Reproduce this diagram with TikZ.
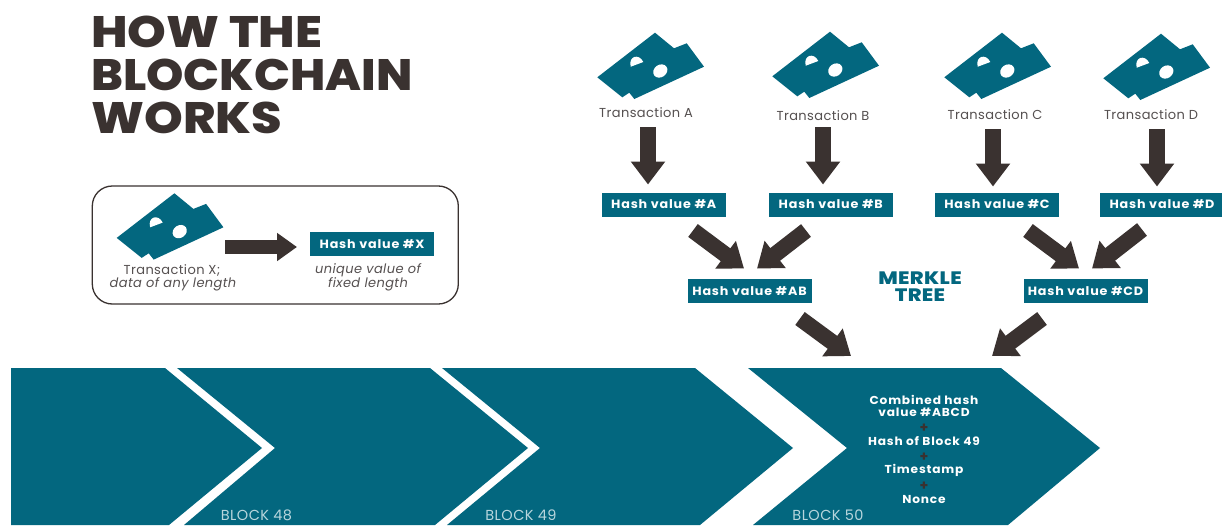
\documentclass[tikz,border=0pt]{standalone}
\usepackage{fontspec}
\setmainfont{Poppins}
\newfontfamily\labf[LetterSpace=3]{Poppins}
\newfontfamily\hashf[LetterSpace=7,FakeStretch=1.06]{Poppins}
\newfontfamily\heavyf[FakeStretch=1.08]{Poppins ExtraBold}
\newfontfamily\heavyw[FakeStretch=1.12]{Poppins ExtraBold}
\newfontfamily\merkf[LetterSpace=2,FakeStretch=1.16]{Poppins ExtraBold}
\usetikzlibrary{arrows.meta,calc}
\definecolor{teal1}{HTML}{03677F}
\definecolor{dark1}{HTML}{3A3230}
\definecolor{gray1}{HTML}{555050}
\definecolor{light1}{HTML}{B8D6DD}
\newcommand{\fs}[1]{\fontsize{#1}{#1}\selectfont}
\tikzset{
  x=1pt,y=-1pt,
  hashbox/.style={fill=teal1,text=white,font=\hashf\fs{12}\bfseries,minimum width=124pt,minimum height=24pt,inner sep=0pt},
  fat/.style={draw=dark1,line width=16pt,-{Triangle[width=33pt,length=23pt,fill=dark1]}},
  fatsmall/.style={draw=dark1,line width=14pt,-{Triangle[width=27pt,length=20pt,fill=dark1]}},
  label1/.style={text=gray1,font=\labf\fs{13},inner sep=0pt},
  label2/.style={text=gray1,font=\labf\fs{13}\itshape,inner sep=0pt},
  blocktxt/.style={text=light1,font=\labf\fs{14.5},inner sep=0pt},
  stk/.style={text=white,font=\hashf\fs{11.5}\bfseries,inner sep=0pt},
  plussign/.style={text=dark1,font=\fs{14}\bfseries,inner sep=0pt},
  titletxt/.style={text=dark1,font=\heavyf\fs{44},inner sep=0pt,anchor=west},
  merk/.style={text=teal1,font=\merkf\fs{18},inner sep=0pt},
  chev/.style={fill=teal1,draw=none},
  doc/.pic={
    \fill[teal1] (58,0.7)--(77,16.3)--(89.7,11.3)--(107,34.7)--(37.3,67)--(32.3,60.7)--(25.3,65.3)--(0.3,45.3)--cycle;
    \fill[white] (33.7,34.7) .. controls (31,24) and (42,21) .. (46.3,30) -- cycle;
    \fill[white,rotate around={35:(63.3,39)}] (63.3,39) ellipse [x radius=7.5,y radius=6.2];
  }
}
\begin{document}
\begin{tikzpicture}
\useasboundingbox (0,0) rectangle (1222,525);
\fill[white] (0,0) rectangle (1222,525);
% chevrons
\fill[chev] (11,368)--(165,368)--(262,448)--(169,525)--(11,525)--cycle;
\fill[chev] (177,368)--(430,368)--(528,448)--(435,525)--(184,525)--(275,448)--cycle;
\fill[chev] (442,368)--(695,368)--(793,448)--(700,525)--(447,525)--(540,448)--cycle;
\fill[chev] (748,368)--(1001,368)--(1100,448)--(1008,525)--(753,525)--(847,448)--cycle;
% title
\node[titletxt] (t1) at (91,32) {\heavyw HOW THE};
\node[titletxt] (t2) at (91,75) {BLOCKCHAIN};
\node[titletxt] (t3) at (91,118) {\heavyw WORKS};
% legend
\node[draw=dark1,line width=1.3pt,rounded corners=20pt,minimum width=366pt,minimum height=118pt,inner sep=0pt] (legend) at (275.3,245) {};
\pic at (116.4,192.6) {doc};
\node[label1] (tX) at (172,270) {Transaction X;};
\node[label2] (dX) at (173,284) {data of any length};
\node[hashbox] (hX) at (372,244) {Hash value \#X};
\node[label2] (uX) at (368,270) {unique value of};
\node[label2] (fX) at (368,284) {fixed length};
\draw[fatsmall] ($(tX)+(53,-23)$) -- ($(hX)+(-75,3)$);
% transactions
\pic at (597,32) {doc};
\pic at (772,31) {doc};
\pic at (944,32) {doc};
\pic at (1103,33) {doc};
\node[label1] (tA) at (646,113) {Transaction A};
\node[label1] (tB) at (823,116) {Transaction B};
\node[label1] (tC) at (995,115) {Transaction C};
\node[label1] (tD) at (1151,115) {Transaction D};
\node[hashbox] (hA) at (663.7,204.5) {Hash value \#A};
\node[hashbox] (hB) at (830.7,204.5) {Hash value \#B};
\node[hashbox] (hC) at (997,204.5) {Hash value \#C};
\node[hashbox] (hD) at (1162,204.5) {Hash value \#D};
\node[hashbox] (hAB) at (749.5,291) {Hash value \#AB};
\node[hashbox] (hCD) at (1085.5,291) {Hash value \#CD};
\node[merk] (mt1) at (920,278) {MERKLE};
\node[merk] (mt2) at (920,295) {TREE};
% block contents
\node[stk] (s1) at (924,400) {Combined hash};
\node[stk] (s2) at (924,412) {value \#ABCD};
\node[plussign] (p1) at (924,428) {+};
\node[stk] (s3) at (924,441) {Hash of Block 49};
\node[plussign] (p2) at (924,457) {+};
\node[stk] (s4) at (924,470) {Timestamp};
\node[plussign] (p3) at (924,486) {+};
\node[stk] (s5) at (924,499) {Nonce};
\node[blocktxt] (b48) at (256.5,515) {BLOCK 48};
\node[blocktxt] (b49) at (521,515) {BLOCK 49};
\node[blocktxt] (b50) at (828,515) {BLOCK 50};
% arrows
\draw[fat] ($(tA)+(2,14)$) -- ($(hA)+(-15.7,-20)$);
\draw[fat] ($(tB)+(0,11)$) -- ($(hB)+(-7.7,-20)$);
\draw[fat] ($(tC)+(-2,14)$) -- ($(hC)+(-4,-18)$);
\draw[fat] ($(tD)+(6,14)$) -- ($(hD)+(-5,-18)$);
\draw[fat] ($(hA)+(29.3,26)$) -- ($(hAB)+(-5.5,-22.5)$);
\draw[fat] ($(hB)+(-24.7,26)$) -- ($(hAB)+(7.5,-22.5)$);
\draw[fat] ($(hC)+(31,26)$) -- ($(hCD)+(-6.5,-22.5)$);
\draw[fat] ($(hD)+(-20,25)$) -- ($(hCD)+(6.5,-22.5)$);
\draw[fat] ($(hAB)+(50.5,27.5)$) -- ($(s1)+(-73,-44)$);
\draw[fat] ($(hCD)+(-43.5,27.5)$) -- ($(s1)+(68,-44)$);
\end{tikzpicture}
\end{document}
